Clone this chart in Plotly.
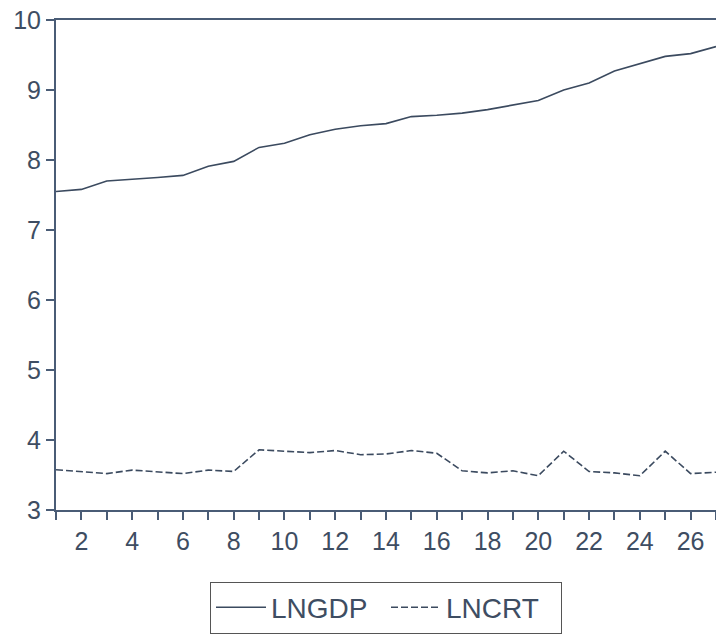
import plotly.graph_objects as go

periods = list(range(1, 28))
lngdp = [7.55, 7.58, 7.70, 7.72, 7.75, 7.78, 7.91, 7.98, 8.18, 8.24,
         8.36, 8.44, 8.49, 8.52, 8.62, 8.64, 8.67, 8.72, 8.78, 8.85,
         9.00, 9.10, 9.27, 9.38, 9.48, 9.52, 9.62]
lncrt = [3.575, 3.55, 3.52, 3.57, 3.55, 3.52, 3.57, 3.55, 3.86, 3.84,
         3.82, 3.85, 3.79, 3.80, 3.85, 3.81, 3.56, 3.53, 3.56, 3.49,
         3.84, 3.55, 3.53, 3.49, 3.84, 3.52, 3.54]
x_tick_text = [str(p) if p % 2 == 0 else "" for p in periods]
y_ticks = [3, 4, 5, 6, 7, 8, 9, 10]

line_col = "#3b4a5f"
axis_col = "#4a5c76"
font_col = "#3e4d62"

fig = go.Figure()
fig.add_trace(go.Scatter(x=periods, y=lngdp, mode="lines", name="LNGDP",
                         line=dict(color=line_col, width=1.6)))
fig.add_trace(go.Scatter(x=periods, y=lncrt, mode="lines", name="LNCRT",
                         line=dict(color=line_col, width=1.6, dash="7px,3px")))

fig.update_layout(
    width=716, height=634,
    margin=dict(l=56, r=0, t=20, b=121),
    paper_bgcolor="white", plot_bgcolor="white",
    font=dict(family="Liberation Sans, Arial, sans-serif", size=25, color=font_col),
    showlegend=True,
    legend=dict(orientation="h", x=0.5, xanchor="center", y=-0.146, yanchor="top",
                bordercolor="#555555", borderwidth=1, font=dict(size=28, color=font_col),
                itemwidth=50, entrywidth=110, entrywidthmode="pixels", tracegroupgap=0),
)
fig.update_xaxes(range=[1, 27], tickvals=periods, ticktext=x_tick_text,
                 ticks="outside", ticklen=8, tickwidth=1.5, tickcolor=axis_col,
                 showline=True, linecolor=axis_col, linewidth=2, mirror=True,
                 showgrid=False, zeroline=False)
fig.update_yaxes(range=[3, 10], tickvals=y_ticks,
                 ticks="outside", ticklen=8, tickwidth=1.5, tickcolor=axis_col,
                 showline=True, linecolor=axis_col, linewidth=2,
                 showgrid=False, zeroline=False)

fig.write_html("out.html")
